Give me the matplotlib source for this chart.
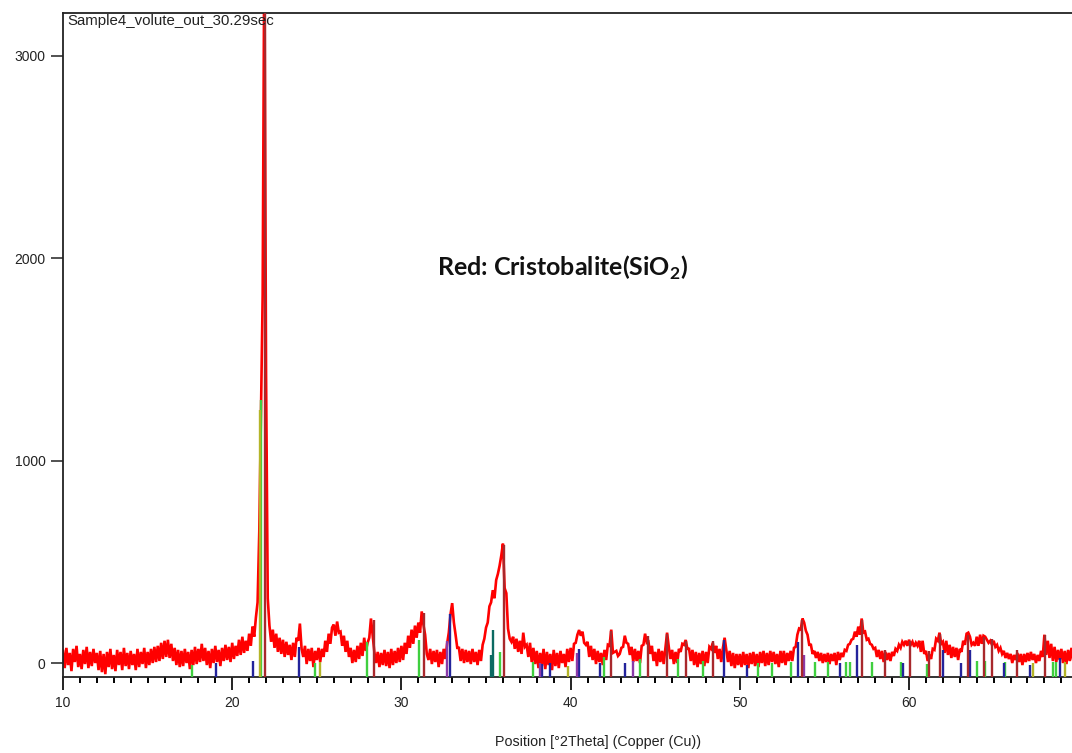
import numpy as np
import matplotlib
matplotlib.use("Agg")
import matplotlib.pyplot as plt
from matplotlib.ticker import MultipleLocator

plt.rcParams["font.family"] = ["Liberation Sans", "DejaVu Sans"]
plt.rcParams["mathtext.fontset"] = "custom"
plt.rcParams["mathtext.rm"] = "Lato:bold"
plt.rcParams["mathtext.bf"] = "Lato:bold"

# ---- measured scan: counts every 0.1 deg 2theta, starting at 10.0 ----
scan_start = 10.0
scan_step = 0.1
counts = [
    60, -25, 75, -10, 50, -40, 70, 5, 85, -20,
    45, -30, 65, -5, 80, -25, 55, -15, 70, 0,
    50, -35, 60, -45, 45, -55, 55, -20, 70, -30,
    40, -40, 65, -10, 55, -35, 75, -15, 50, -30,
    60, -10, 45, -35, 70, -20, 55, -5, 75, -25,
    55, -10, 70, 0, 80, 5, 85, 10, 100, 20,
    110, 30, 115, 25, 95, 10, 75, -10, 65, -20,
    60, -15, 70, 0, 55, -30, 65, -10, 80, -5,
    70, 5, 95, 10, 75, -10, 60, -25, 70, 0,
    85, 5, 65, -15, 75, 10, 90, 15, 80, 5,
    100, 20, 85, 35, 115, 40, 130, 50, 110, 60,
    145, 85, 180, 130, 225, 300, 650, 1250, 1820, 3600,
    1430, 320, 185, 105, 165, 75, 145, 55, 125, 45,
    115, 30, 105, 40, 90, 15, 100, 30, 125, 110,
    195, 70, 30, 85, -5, 70, 10, 75, -20, 60,
    15, 75, 5, 70, 30, 110, 55, 145, 95, 175,
    190, 135, 205, 150, 155, 85, 135, 55, 110, 30,
    75, 0, 65, 5, 85, 20, 100, 35, 125, 60,
    100, 125, 220, 140, 55, 0, 55, -20, 50, -10,
    65, -15, 55, -25, 70, -10, 60, 0, 75, 5,
    85, 15, 100, 45, 135, 75, 165, 95, 185, 125,
    200, 150, 255, 190, 140, 45, 15, 70, -5, 60,
    5, 65, -20, 55, -5, 70, 20, 95, 150, 240,
    296, 200, 140, 75, 75, 10, 70, 0, 65, 5,
    60, -5, 70, 5, 55, -10, 65, 10, 90, 120,
    175, 200, 280, 300, 360, 320, 410, 440, 480, 530,
    590, 370, 345, 170, 120, 105, 130, 70, 120, 55,
    110, 45, 150, 80, 90, 30, 100, 5, 75, -5,
    60, -25, 50, -15, 70, -30, 55, -10, 45, -35,
    65, -15, 50, -25, 60, 0, 45, -20, 70, 5,
    75, 10, 95, 100, 140, 163, 135, 155, 100, 90,
    105, 30, 85, 15, 70, -5, 60, 5, 50, -10,
    65, 15, 90, 85, 165, 50, 55, 60, 35, 45,
    75, 80, 135, 100, 95, 40, 80, 5, 70, 10,
    60, 0, 85, 90, 145, 100, 105, 45, 85, 10,
    55, -15, 70, 5, 60, -5, 75, 150, 80, 20,
    65, -5, 55, 0, 70, 55, 95, 90, 114, 70,
    70, 10, 65, -10, 55, -20, 50, -5, 60, -15,
    55, 0, 80, 70, 100, 50, 85, 20, 70, 5,
    75, 125, 65, 5, 60, -15, 50, -25, 45, -10,
    45, -20, 55, -10, 45, -25, 50, -5, 55, -15,
    45, -20, 55, 0, 60, -15, 50, -10, 60, 5,
    55, -5, 45, -20, 60, 0, 60, -10, 50, 10,
    60, 10, 75, 80, 140, 170, 165, 220, 200, 160,
    140, 90, 90, 45, 60, 25, 55, 10, 50, 0,
    45, 5, 50, -5, 45, 10, 50, -10, 55, 15,
    50, 30, 65, 60, 90, 95, 115, 120, 155, 130,
    180, 140, 220, 150, 155, 115, 120, 95, 90, 70,
    75, 30, 65, 20, 60, 5, 55, 15, 50, 10,
    55, 35, 70, 60, 90, 75, 105, 90, 110, 85,
    115, 90, 105, 80, 100, 85, 110, 55, 110, 45,
    60, 10, 40, 20, 70, 65, 120, 110, 150, 95,
    105, 50, 110, 40, 90, 25, 80, 30, 75, 15,
    70, 55, 110, 90, 145, 150, 130, 90, 100, 85,
    130, 85, 140, 95, 135, 130, 115, 100, 110, 90,
    110, 80, 90, 60, 75, 45, 60, 25, 50, 20,
    45, 0, 40, 15, 50, 5, 45, -10, 45, 5,
    50, 10, 55, 15, 45, 0, 40, 10, 60, 30,
    140, 40, 110, 25, 95, 10, 80, 5, 65, 15,
    70, 0, 60, -5, 65, 10, 75, 15,
]

# ---- reference pattern sticks (position in deg 2theta, top in counts) ----
cristobalite_pos = [21.92, 28.40, 31.35, 36.05, 42.40, 44.55, 45.70, 46.80,
                    48.40, 53.70, 57.20, 58.60, 60.05, 61.20, 61.85, 63.50,
                    64.40, 64.90, 66.40, 68.05]
cristobalite_top = [3400, 215, 245, 585, 160, 135, 145, 110,
                    110, 215, 215, 65, 110, 60, 145, 140,
                    130, 120, 65, 140]

green_pos = [17.60, 21.70, 24.90, 27.95, 31.05, 35.85, 37.80, 42.00, 44.10,
             46.35, 47.80, 51.10, 51.90, 53.00, 54.45, 55.20, 56.25, 56.50,
             57.80, 59.50, 61.05, 64.00, 64.50, 65.65, 68.50, 68.70]
green_top = [-10, 1300, 0, 105, 115, 55, 5, 30, 20,
             20, 10, 0, 0, 5, 5, 5, 5, 5,
             5, 5, -5, 10, 10, 5, 5, 5]

blue_pos = [19.05, 21.20, 23.97, 32.85, 38.30, 38.80, 40.50, 41.75, 43.20,
            49.05, 50.45, 53.45, 55.90, 56.90, 59.65, 62.00, 63.05, 63.60,
            65.60, 67.15, 68.90]
blue_top = [0, 10, 80, 240, -5, 0, 70, 0, 0,
            115, -10, 105, 0, 90, 0, 65, 0, 65,
            0, -10, 25]

olive_pos = [21.62, 25.20, 39.85, 67.30, 69.20]
olive_top = [1250, 5, -15, 0, 5]

purple_pos = [32.70, 38.20, 40.35, 43.70, 53.80]
purple_top = [110, 0, 50, 10, 40]

teal_pos = [35.30, 35.42]
teal_top = [40, 165]

x_min, x_max = 10.0, 69.63
y_min, y_max = -69, 3212

fig = plt.figure(figsize=(10.72, 7.53), dpi=100)
ax = fig.add_axes([63 / 1072, 1 - 677 / 753, 1 - 63 / 1072, (677 - 13) / 753])

two_theta = scan_start + scan_step * np.arange(len(counts))
ax.plot(two_theta, counts, color="#ff0000", lw=1.9, zorder=2,
        solid_joinstyle="miter")

stick_sets = [
    (green_pos, green_top, "#3fcf3f"),
    (olive_pos, olive_top, "#b4b428"),
    (blue_pos, blue_top, "#23239b"),
    (purple_pos, purple_top, "#8a3aa8"),
    (teal_pos, teal_top, "#0b6a62"),
    (cristobalite_pos, cristobalite_top, "#a8282c"),
]
for pos, top, col in stick_sets:
    ax.vlines(pos, y_min, top, colors=col, lw=1.7, zorder=3)

ax.set_xlim(x_min, x_max)
ax.set_ylim(y_min, y_max)

ax.xaxis.set_major_locator(MultipleLocator(10))
ax.xaxis.set_minor_locator(MultipleLocator(1))
ax.yaxis.set_major_locator(MultipleLocator(1000))

ax.tick_params(axis="x", which="major", direction="out", length=9.5, width=1.4,
               pad=4.5, labelsize=10, colors="#222222")
ax.tick_params(axis="x", which="minor", direction="out", length=4.5, width=1.4)
ax.tick_params(axis="y", which="major", direction="out", length=8.5, width=1.1,
               pad=4, labelsize=10, colors="#222222")

for side in ("left", "top", "bottom"):
    ax.spines[side].set_linewidth(1.3)
    ax.spines[side].set_color("#222222")
ax.spines["right"].set_visible(False)

ax.set_xlabel("Position [°2Theta] (Copper (Cu))", fontsize=10.3, color="#222222")
ax.xaxis.set_label_coords(0.530, -0.088)

ax.text(0.004, 0.998, "Sample4_volute_out_30.29sec", transform=ax.transAxes,
        ha="left", va="top", fontsize=10.8, color="#222222")

ax.text(32.1, 1915, r"Red: Cristobalite(SiO$_\mathbf{2}$)", fontsize=18,
        fontweight="bold", family=["Lato", "DejaVu Sans"], color="#111111",
        ha="left", va="baseline", zorder=5)

fig.savefig("out.png", dpi=100, facecolor="white")
